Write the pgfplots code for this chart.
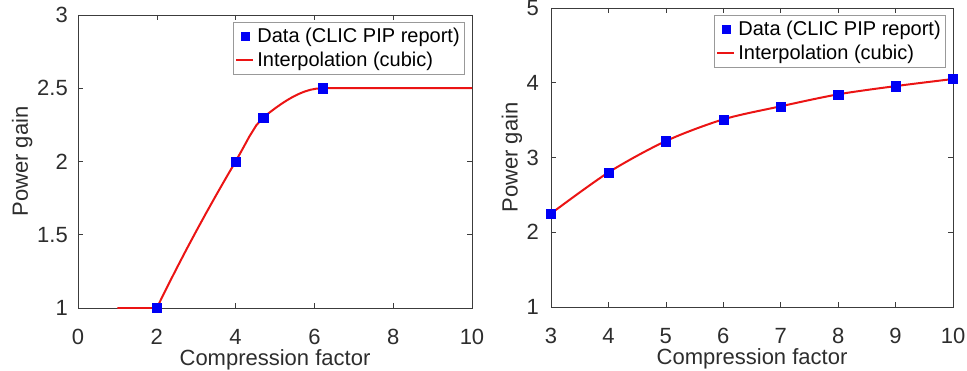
\documentclass[border=0pt]{standalone}
\usepackage{fontspec}
\setmainfont{Liberation Sans}
\usepackage{pgfplots}
\pgfplotsset{compat=1.18}

\definecolor{axcol}{RGB}{60,60,60}
\definecolor{txtcol}{RGB}{45,45,45}
\definecolor{datablue}{RGB}{0,0,245}
\definecolor{fitred}{RGB}{235,20,20}

\pgfplotsset{
  panel/.style={
    scale only axis,
    axis line style={axcol, line width=0.6pt},
    tick style={axcol, line width=0.6pt},
    tick align=inside,
    xtick pos=both, ytick pos=both,
    major tick length=5pt,
    /pgf/number format/assume math mode=true,
    ticklabel style={font=\fontsize{22}{26}\selectfont, text=txtcol},
    xticklabel style={anchor=north, inner sep=0pt},
    xticklabel shift=21pt,
    yticklabel style={anchor=east, inner sep=0pt},
    x label style={at={(axis description cs:0.5,0)}, anchor=base, yshift=-57pt,
      inner sep=0pt, font=\fontsize{22}{26}\selectfont, text=txtcol},
    y label style={anchor=base, inner sep=0pt,
      font=\fontsize{22}{26}\selectfont, text=txtcol},
    legend style={at={(axis description cs:1,1)}, anchor=north east,
      xshift=-7pt, yshift=-7pt, draw=gray!80, line width=0.6pt,
      fill=white, font=\fontsize{20}{24}\selectfont, text=black,
      inner xsep=2pt, inner ysep=4pt, row sep=4pt,
      nodes={inner xsep=3pt, inner ysep=2pt}},
    legend cell align=left,
  },
  datamarks/.style={only marks, mark=square*, mark size=4.6pt,
    mark options={fill=datablue, draw=datablue, line width=0.3pt},
    legend image code/.code={\draw[##1, mark size=4pt] plot coordinates {(8.5pt,0pt)};}},
  fitline/.style={no marks, fitred, line width=2pt,
    legend image code/.code={\draw[##1] (0pt,0pt) -- (17pt,0pt);}},
}

\begin{document}
\begin{tikzpicture}[x=1pt,y=1pt]
\useasboundingbox (0pt,0pt) rectangle (967pt,370pt);

% Left panel: power gain versus compression factor (CLIC PIP report points)
\begin{axis}[panel,
  at={(78pt,62pt)}, anchor=south west,
  width=394pt, height=293pt,
  xmin=0, xmax=10, ymin=1, ymax=3,
  xtick={0,2,4,6,8,10},
  ytick={1,1.5,2,2.5,3},
  yticklabel shift=10pt,
  xlabel={Compression factor},
  ylabel={Power gain},
  y label style={at={([xshift=-50pt]axis description cs:0,0.5)}},
]
\addplot[datamarks] coordinates {
  (2,1) (4,2) (4.7,2.3) (6.2,2.5)
};
\addlegendentry{Data (CLIC PIP report)}
\addplot[fitline] coordinates {
  (1,1) (2,1) (2.25,1.1364) (2.5,1.2690) (2.75,1.3983) (3,1.5243)
  (3.25,1.6472) (3.5,1.7674) (3.75,1.8849) (4,2)
  (4.175,2.0846) (4.35,2.1709) (4.525,2.2467) (4.7,2.3)
  (4.85,2.3320) (5,2.3625) (5.15,2.3911) (5.3,2.4173) (5.45,2.4407)
  (5.6,2.4609) (5.75,2.4773) (5.9,2.4896) (6.05,2.4973) (6.2,2.5)
  (10,2.5)
};
\addlegendentry{Interpolation (cubic)}
\end{axis}

% Right panel
\begin{axis}[panel,
  at={(551pt,63pt)}, anchor=south west,
  width=402pt, height=299pt,
  xmin=3, xmax=10, ymin=1, ymax=5,
  xtick={3,4,5,6,7,8,9,10},
  ytick={1,2,3,4,5},
  yticklabel shift=12pt,
  xlabel={Compression factor},
  ylabel={Power gain},
  y label style={at={([xshift=-33.5pt]axis description cs:0,0.5)}},
]
\addplot[datamarks] coordinates {
  (3,2.25) (4,2.80) (5,3.22) (6,3.51) (7,3.685) (8,3.845) (9,3.955) (10,4.05)
};
\addlegendentry{Data (CLIC PIP report)}
\addplot[fitline, smooth, tension=0.5] coordinates {
  (3,2.25) (4,2.80) (5,3.22) (6,3.51) (7,3.685) (8,3.845) (9,3.955) (10,4.05)
};
\addlegendentry{Interpolation (cubic)}
\end{axis}
\end{tikzpicture}
\end{document}
